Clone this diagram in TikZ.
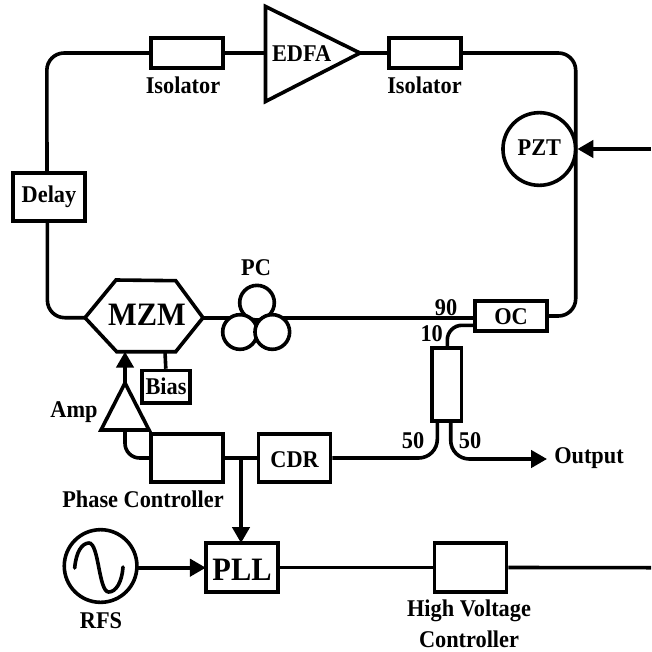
\documentclass[tikz,border=0pt]{standalone}
\usepackage{fontspec}
\setmainfont[FakeStretch=0.93]{Liberation Serif}
\usetikzlibrary{arrows.meta}
\tikzset{
  x=.75pt,y=-.75pt,
  wire/.style={line width=2.7pt},
  fiber/.style={wire,rounded corners=13pt},
  tip/.style={-{Triangle[length=12pt,width=13pt]}},
  sig/.style={wire,tip},
  box/.style={draw,line width=2.7pt,rectangle,inner sep=0pt,minimum width=54pt,minimum height=36pt,fill=white},
  lbl/.style={inner sep=0pt,font=\fontsize{18}{20}\selectfont\bfseries},
  big/.style={inner sep=0pt,font=\fontsize{24.5}{26}\selectfont\bfseries},
  ring/.style={draw,line width=2.7pt,circle,inner sep=0pt,minimum size=54.5pt},
  pcring/.style={draw,line width=2.7pt,circle,inner sep=0pt,minimum size=26pt,fill=white},
}
\begin{document}
\begin{tikzpicture}
\useasboundingbox (0,0) rectangle (651,652);
% anchors
\coordinate (tl) at (46.8,53);
\coordinate (tr) at (575.7,53);
\coordinate (bl) at (47.4,317.7);
\coordinate (br) at (575.7,316);
\coordinate (dt) at (47,172.7);
\coordinate (db) at (47.4,221);
\coordinate (mzmL) at (85,317.7);
\coordinate (mzmR) at (203,317.7);
\coordinate (mzmB) at (125,351.7);
\coordinate (mzmBias) at (165,351.7);
\coordinate (edfaL) at (265.5,53);
\coordinate (edfaR) at (360,53);
\coordinate (ampTop) at (125,383);
\coordinate (ampBot) at (125,430);
\coordinate (oc90) at (475,317.7);
\coordinate (oc10) at (475,325.3);
\coordinate (spT) at (447.3,348);
\coordinate (spL) at (437.3,420.7);
\coordinate (spR) at (450.7,420.7);
\coordinate (jn) at (241,459);
\coordinate (pllT) at (241,543);
\coordinate (rfsR) at (137,567.7);
\coordinate (pllL) at (205.8,567.7);
\coordinate (outEnd) at (547,459);
\coordinate (fbEnd) at (651,149);
\coordinate (hvEnd) at (651,567.7);
% nodes
\node[box] (iso1) at (187,53) [minimum height=22.5pt] {};
\node[box] (iso2) at (425,53) [minimum height=22.5pt] {};
\node[box,minimum height=36.4pt] (delay) at (48.7,197) {};
\node[lbl] (delayT) at (49,197) {Delay};
\node[ring] (pzt) at (539.3,149) {};
\node[lbl] (pztT) at (539.4,148) {PZT};
\node[box,minimum width=36pt,minimum height=24.4pt] (bias) at (165.8,386.8) {};
\node[lbl] (biasT) at (166,386) {Bias};
\node[box,minimum height=22.3pt] (oc) at (511,316) {};
\node[lbl] (ocT) at (511,316.7) {OC};
\node[box,minimum width=22.2pt,minimum height=54.5pt] (split) at (446.5,384.4) {};
\node[box] (phase) at (187,458) {};
\node[box] (cdr) at (294.6,458) {};
\node[lbl] (cdrT) at (294.6,460) {CDR};
\node[box,minimum height=36.8pt] (pll) at (241.9,567.5) {};
\node[big] (pllT2) at (242,570) {PLL};
\node[box,minimum height=36.8pt] (hv) at (470.5,567.5) {};
\node[ring] (rfs) at (100.6,566) {};
% connectors
\draw[fiber] (iso1.west) -- (tl) -- (dt);
\draw[wire] (iso1.east) -- (edfaL);
\draw[wire] (edfaR) -- (iso2.west);
\draw[fiber] (iso2.east) -- (tr) -- (br) -- (oc.east);
\draw[fiber] (db) -- (bl) -- (mzmL);
\draw[wire] (mzmR) -- (oc90);
\draw[fiber,rounded corners=11pt] (oc10) -- (oc10 -| spT) -- (spT);
\draw[fiber,rounded corners=14pt] (spL) -- (spL |- cdr.east) -- (cdr.east);
\draw[fiber,rounded corners=14pt,tip] (spR) -- (spR |- outEnd) -- (outEnd);
\draw[wire] (mzmBias) -- (bias.north);
\draw[sig] (ampTop) -- (mzmB);
\draw[fiber,rounded corners=11pt] (ampBot) -- (ampBot |- phase.west) -- (phase.west);
\draw[wire] (phase.east) -- (cdr.west);
\draw[sig] (jn) -- (pllT);
\draw[sig] (rfsR) -- (pllL);
\draw[wire] (pll.east) -- (hv.west);
\draw[wire] (hv.east) -- (hvEnd);
\draw[sig] (fbEnd) -- (pzt.east);
% shapes drawn over
\draw[wire,line join=miter,fill=white] (edfaL) -- (265.5,6.5) -- (edfaR) -- (265.5,101.5) -- cycle;
\draw[wire,line join=miter,fill=white] (85,317.7) -- (116,280) -- (175.7,280.7) -- (203,317.7) -- (175.7,351.7) -- (116.7,351.7) -- cycle;
\draw[wire,line join=miter,fill=white] (125,383) -- (149,430) -- (101,430) -- cycle;
\node[pcring] (pc1) at (257,302.7) {};
\node[pcring] (pc2) at (240,332) {};
\node[pcring] (pc3) at (272.3,332) {};
\draw[wire,line cap=round] (74.7,568) .. controls (76,552) and (82,543) .. (89,543) .. controls (99,543) and (98.6,592) .. (108.7,592) .. controls (116,592) and (122,582) .. (123,567);
% labels
\node[lbl] (t1) at (183,85) {Isolator};
\node[lbl] (t2) at (424.5,85) {Isolator};
\node[lbl] (t3) at (301.6,54) {EDFA};
\node[big] (t4) at (147,315) {MZM};
\node[lbl] (t5) at (256,268) {PC};
\node[lbl] (t6) at (74,411.7) {Amp};
\node[lbl] (t7) at (143,499) {Phase Controller};
\node[lbl] (t8) at (446,307.7) {90};
\node[lbl] (t9) at (431.7,334) {10};
\node[lbl] (t10) at (413,441) {50};
\node[lbl] (t11) at (470,441) {50};
\node[lbl] (t12) at (589,458) {Output};
\node[lbl] (t13) at (101,621) {RFS};
\node[lbl] (t14) at (469,610.7) {High Voltage};
\node[lbl] (t15) at (469,639) {Controller};
\end{tikzpicture}
\end{document}
